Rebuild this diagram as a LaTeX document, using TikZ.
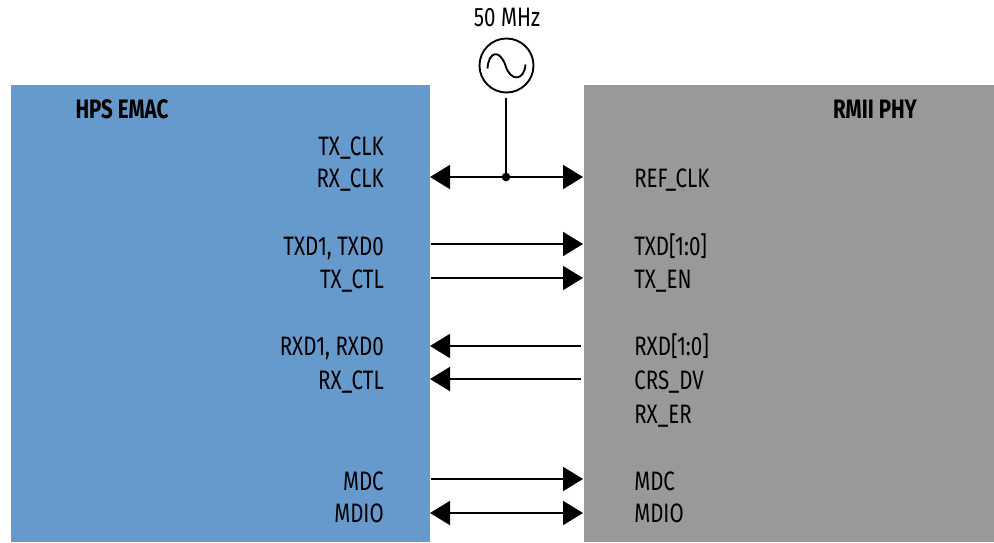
\documentclass[tikz,border=0pt]{standalone}
\usepackage{fontspec}
\setmainfont[FakeStretch=0.77]{Fira Sans}
\usetikzlibrary{arrows.meta,calc}
\definecolor{hpsblue}{HTML}{6699CC}
\definecolor{phygray}{HTML}{999999}
\tikzset{
  panel/.style={draw=none,inner sep=0pt,outer sep=0pt,anchor=north west},
  sig/.style={font=\fontsize{20pt}{22pt}\selectfont,inner sep=0pt,text=black},
  sigl/.style={sig,anchor=base east},
  sigr/.style={sig,anchor=base west},
  head/.style={font=\fontsize{20pt}{22pt}\selectfont\bfseries,inner sep=0pt,anchor=base,text=black},
  wire/.style={line width=1.5pt,black},
  onehead/.style={wire,-{Triangle[length=15pt,width=18pt]}},
  twohead/.style={wire,{Triangle[length=15pt,width=18pt]}-{Triangle[length=15pt,width=18pt]}},
  osc/.style={circle,draw=black,line width=1.4pt,minimum size=40.5pt,inner sep=0pt,outer sep=0pt},
  junction/.style={circle,fill=black,minimum size=6.5pt,inner sep=0pt}
}
\begin{document}
\begin{tikzpicture}[x=0.75pt,y=-0.75pt]
\useasboundingbox (0,0) rectangle (994,542);
\node[panel,fill=hpsblue,minimum width=314.25pt,minimum height=342.75pt] (hps) at (11,85) {};
\node[panel,fill=phygray,minimum width=307.5pt,minimum height=342.75pt] (phy) at (584,85) {};
\node[head] (hpst) at (122,118) {HPS EMAC};
\node[head] (phyt) at (875,118) {RMII PHY};
\node[sig,anchor=base] (mhz) at (507,27) {50 MHz};
\node[osc] (clk) at (506.5,65.5) {};
\draw[line width=1.4pt] ($(clk.center)+(-19,3)$) .. controls ($(clk.center)+(-18,-14)$) and ($(clk.center)+(-7,-17)$) .. ($(clk.center)+(-1,0)$) .. controls ($(clk.center)+(4,17)$) and ($(clk.center)+(18,15)$) .. ($(clk.center)+(19,-1)$);
% left labels
\node[sigl] (l1) at (384,155) {TX\_CLK};
\node[sigl] (l2) at (384,187) {RX\_CLK};
\node[sigl] (l3) at (384,255) {TXD1, TXD0};
\node[sigl] (l4) at (384,288) {TX\_CTL};
\node[sigl] (l5) at (384,355) {RXD1, RXD0};
\node[sigl] (l6) at (384,389) {RX\_CTL};
\node[sigl] (l7) at (384,490) {MDC};
\node[sigl] (l8) at (384,522) {MDIO};
% right labels
\node[sigr] (r1) at (634,187) {REF\_CLK};
\node[sigr] (r2) at (634,255) {TXD[1:0]};
\node[sigr] (r3) at (634,288) {TX\_EN};
\node[sigr] (r4) at (634,355) {RXD[1:0]};
\node[sigr] (r5) at (634,389) {CRS\_DV};
\node[sigr] (r6) at (634,423) {RX\_ER};
\node[sigr] (r7) at (634,490) {MDC};
\node[sigr] (r8) at (634,522) {MDIO};
% connector ends
\coordinate (a1) at (430,177); \coordinate (b1) at (583,177);
\coordinate (a2) at (431,244); \coordinate (b2) at (583,244);
\coordinate (a3) at (431,278); \coordinate (b3) at (583,278);
\coordinate (a4) at (430,346); \coordinate (b4) at (581,346);
\coordinate (a5) at (430,379); \coordinate (b5) at (581,379);
\coordinate (a6) at (431,479); \coordinate (b6) at (583,479);
\coordinate (a7) at (430,513); \coordinate (b7) at (583,513);
\coordinate (j) at (506,177);
\coordinate (clkout) at (506,98);
\draw[twohead] (a1) -- (b1);
\draw[onehead] (a2) -- (b2);
\draw[onehead] (a3) -- (b3);
\draw[onehead] (b4) -- (a4);
\draw[onehead] (b5) -- (a5);
\draw[onehead] (a6) -- (b6);
\draw[twohead] (a7) -- (b7);
\draw[wire] (clkout) -- (j);
\node[junction] (jd) at (j) {};
\end{tikzpicture}
\end{document}
